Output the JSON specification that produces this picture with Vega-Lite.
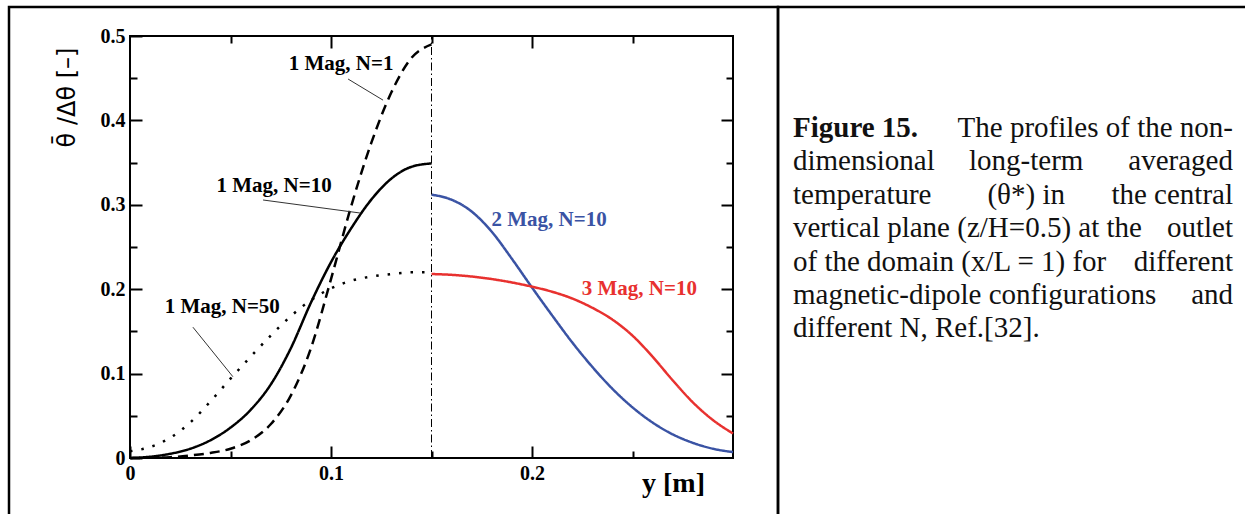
{
  "$schema": "https://vega.github.io/schema/vega-lite/v6.json",
  "width": 603,
  "height": 422,
  "autosize": {"type": "none"},
  "padding": {"left": 130, "top": 36, "right": 512, "bottom": 56},
  "background": "white",
  "config": {
    "view": {"stroke": "black", "strokeWidth": 2},
    "axis": {
      "grid": false,
      "domain": false,
      "tickColor": "black",
      "tickWidth": 2,
      "labelFont": "Liberation Serif",
      "labelFontWeight": "bold",
      "labelFontSize": 20,
      "labelColor": "black",
      "labelFlush": false,
      "labelOverlap": false,
      "titleColor": "black"
    }
  },
  "datasets": {
    "curves": [
      {"series": "1 Mag, N=1", "x": 0.0, "y": 0.0},
      {"series": "1 Mag, N=1", "x": 0.01, "y": 0.0003},
      {"series": "1 Mag, N=1", "x": 0.02, "y": 0.001},
      {"series": "1 Mag, N=1", "x": 0.03, "y": 0.003},
      {"series": "1 Mag, N=1", "x": 0.04, "y": 0.006},
      {"series": "1 Mag, N=1", "x": 0.05, "y": 0.011},
      {"series": "1 Mag, N=1", "x": 0.06, "y": 0.021},
      {"series": "1 Mag, N=1", "x": 0.07, "y": 0.04},
      {"series": "1 Mag, N=1", "x": 0.08, "y": 0.074},
      {"series": "1 Mag, N=1", "x": 0.09, "y": 0.13},
      {"series": "1 Mag, N=1", "x": 0.1, "y": 0.212},
      {"series": "1 Mag, N=1", "x": 0.11, "y": 0.298},
      {"series": "1 Mag, N=1", "x": 0.12, "y": 0.373},
      {"series": "1 Mag, N=1", "x": 0.13, "y": 0.433},
      {"series": "1 Mag, N=1", "x": 0.14, "y": 0.474},
      {"series": "1 Mag, N=1", "x": 0.15, "y": 0.49},
      {"series": "1 Mag, N=10", "x": 0.0, "y": 0.0},
      {"series": "1 Mag, N=10", "x": 0.01, "y": 0.0015},
      {"series": "1 Mag, N=10", "x": 0.02, "y": 0.005},
      {"series": "1 Mag, N=10", "x": 0.03, "y": 0.011},
      {"series": "1 Mag, N=10", "x": 0.04, "y": 0.021},
      {"series": "1 Mag, N=10", "x": 0.05, "y": 0.036},
      {"series": "1 Mag, N=10", "x": 0.06, "y": 0.057},
      {"series": "1 Mag, N=10", "x": 0.07, "y": 0.087},
      {"series": "1 Mag, N=10", "x": 0.08, "y": 0.13},
      {"series": "1 Mag, N=10", "x": 0.09, "y": 0.184},
      {"series": "1 Mag, N=10", "x": 0.1, "y": 0.232},
      {"series": "1 Mag, N=10", "x": 0.11, "y": 0.272},
      {"series": "1 Mag, N=10", "x": 0.12, "y": 0.306},
      {"series": "1 Mag, N=10", "x": 0.13, "y": 0.331},
      {"series": "1 Mag, N=10", "x": 0.14, "y": 0.345},
      {"series": "1 Mag, N=10", "x": 0.15, "y": 0.349},
      {"series": "1 Mag, N=50", "x": 0.0, "y": 0.008},
      {"series": "1 Mag, N=50", "x": 0.01, "y": 0.013},
      {"series": "1 Mag, N=50", "x": 0.02, "y": 0.024},
      {"series": "1 Mag, N=50", "x": 0.03, "y": 0.042},
      {"series": "1 Mag, N=50", "x": 0.04, "y": 0.067},
      {"series": "1 Mag, N=50", "x": 0.05, "y": 0.094},
      {"series": "1 Mag, N=50", "x": 0.06, "y": 0.12},
      {"series": "1 Mag, N=50", "x": 0.07, "y": 0.145},
      {"series": "1 Mag, N=50", "x": 0.08, "y": 0.168},
      {"series": "1 Mag, N=50", "x": 0.09, "y": 0.187},
      {"series": "1 Mag, N=50", "x": 0.1, "y": 0.201},
      {"series": "1 Mag, N=50", "x": 0.11, "y": 0.21},
      {"series": "1 Mag, N=50", "x": 0.12, "y": 0.215},
      {"series": "1 Mag, N=50", "x": 0.13, "y": 0.218},
      {"series": "1 Mag, N=50", "x": 0.14, "y": 0.22},
      {"series": "1 Mag, N=50", "x": 0.15, "y": 0.22},
      {"series": "2 Mag, N=10", "x": 0.15, "y": 0.312},
      {"series": "2 Mag, N=10", "x": 0.16, "y": 0.306},
      {"series": "2 Mag, N=10", "x": 0.17, "y": 0.292},
      {"series": "2 Mag, N=10", "x": 0.18, "y": 0.268},
      {"series": "2 Mag, N=10", "x": 0.19, "y": 0.236},
      {"series": "2 Mag, N=10", "x": 0.2, "y": 0.202},
      {"series": "2 Mag, N=10", "x": 0.21, "y": 0.169},
      {"series": "2 Mag, N=10", "x": 0.22, "y": 0.137},
      {"series": "2 Mag, N=10", "x": 0.23, "y": 0.108},
      {"series": "2 Mag, N=10", "x": 0.24, "y": 0.082},
      {"series": "2 Mag, N=10", "x": 0.25, "y": 0.06},
      {"series": "2 Mag, N=10", "x": 0.26, "y": 0.042},
      {"series": "2 Mag, N=10", "x": 0.27, "y": 0.028},
      {"series": "2 Mag, N=10", "x": 0.28, "y": 0.018},
      {"series": "2 Mag, N=10", "x": 0.29, "y": 0.011},
      {"series": "2 Mag, N=10", "x": 0.3, "y": 0.007},
      {"series": "3 Mag, N=10", "x": 0.15, "y": 0.218},
      {"series": "3 Mag, N=10", "x": 0.16, "y": 0.217},
      {"series": "3 Mag, N=10", "x": 0.17, "y": 0.215},
      {"series": "3 Mag, N=10", "x": 0.18, "y": 0.212},
      {"series": "3 Mag, N=10", "x": 0.19, "y": 0.208},
      {"series": "3 Mag, N=10", "x": 0.2, "y": 0.203},
      {"series": "3 Mag, N=10", "x": 0.21, "y": 0.197},
      {"series": "3 Mag, N=10", "x": 0.22, "y": 0.189},
      {"series": "3 Mag, N=10", "x": 0.23, "y": 0.178},
      {"series": "3 Mag, N=10", "x": 0.24, "y": 0.164},
      {"series": "3 Mag, N=10", "x": 0.25, "y": 0.145},
      {"series": "3 Mag, N=10", "x": 0.26, "y": 0.12},
      {"series": "3 Mag, N=10", "x": 0.27, "y": 0.092},
      {"series": "3 Mag, N=10", "x": 0.28, "y": 0.066},
      {"series": "3 Mag, N=10", "x": 0.29, "y": 0.045},
      {"series": "3 Mag, N=10", "x": 0.3, "y": 0.029}
    ],
    "labels": [
      {"series": "1 Mag, N=1", "x": 0.105, "y": 0.467},
      {"series": "1 Mag, N=10", "x": 0.0717, "y": 0.322},
      {"series": "1 Mag, N=50", "x": 0.0459, "y": 0.179},
      {"series": "2 Mag, N=10", "x": 0.2085, "y": 0.282},
      {"series": "3 Mag, N=10", "x": 0.2534, "y": 0.2}
    ],
    "leaders": [
      {"series": "1 Mag, N=1", "x": 0.1085, "y": 0.449, "x2": 0.1259, "y2": 0.424},
      {"series": "1 Mag, N=10", "x": 0.0662, "y": 0.3057, "x2": 0.1144, "y2": 0.2903},
      {"series": "1 Mag, N=50", "x": 0.0313, "y": 0.155, "x2": 0.0512, "y2": 0.0963}
    ],
    "divider": [{"x": 0.15, "y": 0, "y2": 0.5}],
    "caption": [
      {"line": 1, "bold": "Figure 15.", "left": "", "mid": "", "right": "The profiles of the non-"},
      {"line": 2, "bold": "", "left": "dimensional", "mid": "long-term", "right": "averaged"},
      {"line": 3, "bold": "", "left": "temperature", "mid": "(θ*) in", "right": "the central"},
      {"line": 4, "bold": "", "left": "vertical plane (z/H=0.5) at the", "mid": "", "right": "outlet"},
      {"line": 5, "bold": "", "left": "of the domain (x/L = 1) for", "mid": "", "right": "different"},
      {"line": 6, "bold": "", "left": "magnetic-dipole configurations", "mid": "", "right": "and"},
      {"line": 7, "bold": "", "left": "different N, Ref.[32].", "mid": "", "right": ""}
    ],
    "cells": [
      {"cell": "figure", "c0": 0, "c1": 1, "r0": 0, "r1": 1},
      {"cell": "caption", "c0": 1, "c1": 2, "r0": 0, "r1": 1}
    ]
  },
  "layer": [
    {
      "layer": [
        {
          "data": {"name": "curves"},
          "mark": {"type": "line", "strokeWidth": 2.5, "interpolate": "monotone"},
          "encoding": {
            "x": {
              "field": "x", "type": "quantitative",
              "scale": {"domain": [0, 0.3], "nice": false, "zero": false},
              "axis": {
                "orient": "bottom", "values": [0, 0.1, 0.2], "format": "~g",
                "tickSize": -12, "labelPadding": 17,
                "title": "y [m]", "titleFont": "Liberation Serif", "titleFontWeight": "bold",
                "titleFontSize": 28, "titleX": 543, "titleY": 33,
                "titleAlign": "center", "titleBaseline": "alphabetic"
              }
            },
            "y": {
              "field": "y", "type": "quantitative",
              "scale": {"domain": [0, 0.5], "nice": false, "zero": false},
              "axis": {
                "orient": "left", "values": [0, 0.1, 0.2, 0.3, 0.4, 0.5], "format": "~g",
                "tickSize": -12, "labelPadding": 17,
                "title": "θ̄ /Δθ [–]", "titleFont": "DejaVu Sans", "titleFontWeight": "normal",
                "titleFontSize": 24, "titleX": -63, "titleY": 61, "titleAngle": 270,
                "titleAlign": "center", "titleBaseline": "middle"
              }
            },
            "color": {
              "field": "series", "type": "nominal", "legend": null,
              "scale": {
                "domain": ["1 Mag, N=1", "1 Mag, N=10", "1 Mag, N=50", "2 Mag, N=10", "3 Mag, N=10"],
                "range": ["#000000", "#000000", "#000000", "#3a53a4", "#e8312f"]
              }
            },
            "strokeDash": {
              "field": "series", "type": "nominal", "legend": null,
              "scale": {
                "domain": ["1 Mag, N=1", "1 Mag, N=10", "1 Mag, N=50", "2 Mag, N=10", "3 Mag, N=10"],
                "range": [[10, 6], [1, 0], [2.5, 9], [1, 0], [1, 0]]
              }
            }
          }
        },
        {
          "data": {"name": "divider"},
          "mark": {"type": "rule", "color": "black", "strokeWidth": 1, "strokeDash": [8, 3, 1.5, 3]},
          "encoding": {
            "x": {
              "field": "x", "type": "quantitative",
              "scale": {"domain": [0, 0.3], "nice": false, "zero": false},
              "axis": {"orient": "bottom", "values": [0.05, 0.15, 0.25], "tickSize": -7, "labels": false, "title": null}
            },
            "y": {
              "field": "y", "type": "quantitative",
              "scale": {"domain": [0, 0.5], "nice": false, "zero": false},
              "axis": {"orient": "left", "values": [0.05, 0.15, 0.25, 0.35, 0.45], "tickSize": -7, "labels": false, "title": null}
            },
            "y2": {"field": "y2"}
          }
        },
        {
          "data": {"name": "leaders"},
          "mark": {"type": "rule", "color": "#333333", "strokeWidth": 1},
          "encoding": {
            "x": {
              "field": "x", "type": "quantitative",
              "scale": {"domain": [0, 0.3], "nice": false, "zero": false},
              "axis": {"orient": "top", "values": [0.05, 0.15, 0.25], "tickSize": -7, "labels": false, "title": null}
            },
            "y": {
              "field": "y", "type": "quantitative",
              "scale": {"domain": [0, 0.5], "nice": false, "zero": false},
              "axis": {"orient": "right", "values": [0.05, 0.15, 0.25, 0.35, 0.45], "tickSize": -7, "labels": false, "title": null}
            },
            "x2": {"field": "x2"},
            "y2": {"field": "y2"}
          }
        },
        {
          "data": {"name": "labels"},
          "mark": {"type": "text", "font": "Liberation Serif", "fontWeight": "bold", "fontSize": 21, "align": "center", "baseline": "middle"},
          "encoding": {
            "x": {
              "field": "x", "type": "quantitative",
              "scale": {"domain": [0, 0.3], "nice": false, "zero": false},
              "axis": {"orient": "top", "values": [0.1, 0.2], "tickSize": -12, "labels": false, "title": null}
            },
            "y": {
              "field": "y", "type": "quantitative",
              "scale": {"domain": [0, 0.5], "nice": false, "zero": false},
              "axis": {"orient": "right", "values": [0.1, 0.2, 0.3, 0.4], "tickSize": -12, "labels": false, "title": null}
            },
            "text": {"field": "series"},
            "color": {
              "field": "series", "type": "nominal", "legend": null,
              "scale": {
                "domain": ["1 Mag, N=1", "1 Mag, N=10", "1 Mag, N=50", "2 Mag, N=10", "3 Mag, N=10"],
                "range": ["#000000", "#000000", "#000000", "#3a53a4", "#e8312f"]
              }
            }
          }
        }
      ],
      "resolve": {"axis": {"x": "independent", "y": "independent"}}
    },
    {
      "data": {"name": "caption"},
      "layer": [
        {
          "mark": {"type": "text", "align": "left", "baseline": "alphabetic", "font": "Liberation Serif", "fontSize": 29, "fontWeight": "bold", "color": "#111111"},
          "encoding": {
            "x": {"datum": 0, "type": "quantitative", "scale": {"domain": [0, 1], "range": [663, 1103]}, "axis": null},
            "y": {"field": "line", "type": "quantitative", "scale": {"domain": [1, 7], "range": [101, 301.4], "nice": false, "zero": false}, "axis": null},
            "text": {"field": "bold"}
          }
        },
        {
          "mark": {"type": "text", "align": "left", "baseline": "alphabetic", "font": "Liberation Serif", "fontSize": 29, "color": "#111111"},
          "encoding": {
            "x": {"datum": 0, "type": "quantitative", "scale": {"domain": [0, 1], "range": [663, 1103]}, "axis": null},
            "y": {"field": "line", "type": "quantitative", "scale": {"domain": [1, 7], "range": [101, 301.4], "nice": false, "zero": false}, "axis": null},
            "text": {"field": "left"}
          }
        },
        {
          "mark": {"type": "text", "align": "center", "baseline": "alphabetic", "font": "Liberation Serif", "fontSize": 29, "color": "#111111"},
          "encoding": {
            "x": {"datum": 0.53, "type": "quantitative", "scale": {"domain": [0, 1], "range": [663, 1103]}, "axis": null},
            "y": {"field": "line", "type": "quantitative", "scale": {"domain": [1, 7], "range": [101, 301.4], "nice": false, "zero": false}, "axis": null},
            "text": {"field": "mid"}
          }
        },
        {
          "mark": {"type": "text", "align": "right", "baseline": "alphabetic", "font": "Liberation Serif", "fontSize": 29, "color": "#111111"},
          "encoding": {
            "x": {"datum": 1, "type": "quantitative", "scale": {"domain": [0, 1], "range": [663, 1103]}, "axis": null},
            "y": {"field": "line", "type": "quantitative", "scale": {"domain": [1, 7], "range": [101, 301.4], "nice": false, "zero": false}, "axis": null},
            "text": {"field": "right"}
          }
        }
      ]
    },
    {
      "data": {"name": "cells"},
      "mark": {"type": "rect", "filled": false, "stroke": "black", "strokeWidth": 2.5},
      "encoding": {
        "x": {"field": "c0", "type": "quantitative", "scale": {"domain": [0, 1, 2], "range": [-121, 648, 1135], "nice": false, "zero": false}, "axis": null},
        "x2": {"field": "c1"},
        "y": {"field": "r0", "type": "quantitative", "scale": {"domain": [0, 1], "range": [-29, 500], "nice": false, "zero": false}, "axis": null},
        "y2": {"field": "r1"}
      }
    }
  ],
  "resolve": {"scale": {"x": "independent", "y": "independent", "color": "independent"}}
}
